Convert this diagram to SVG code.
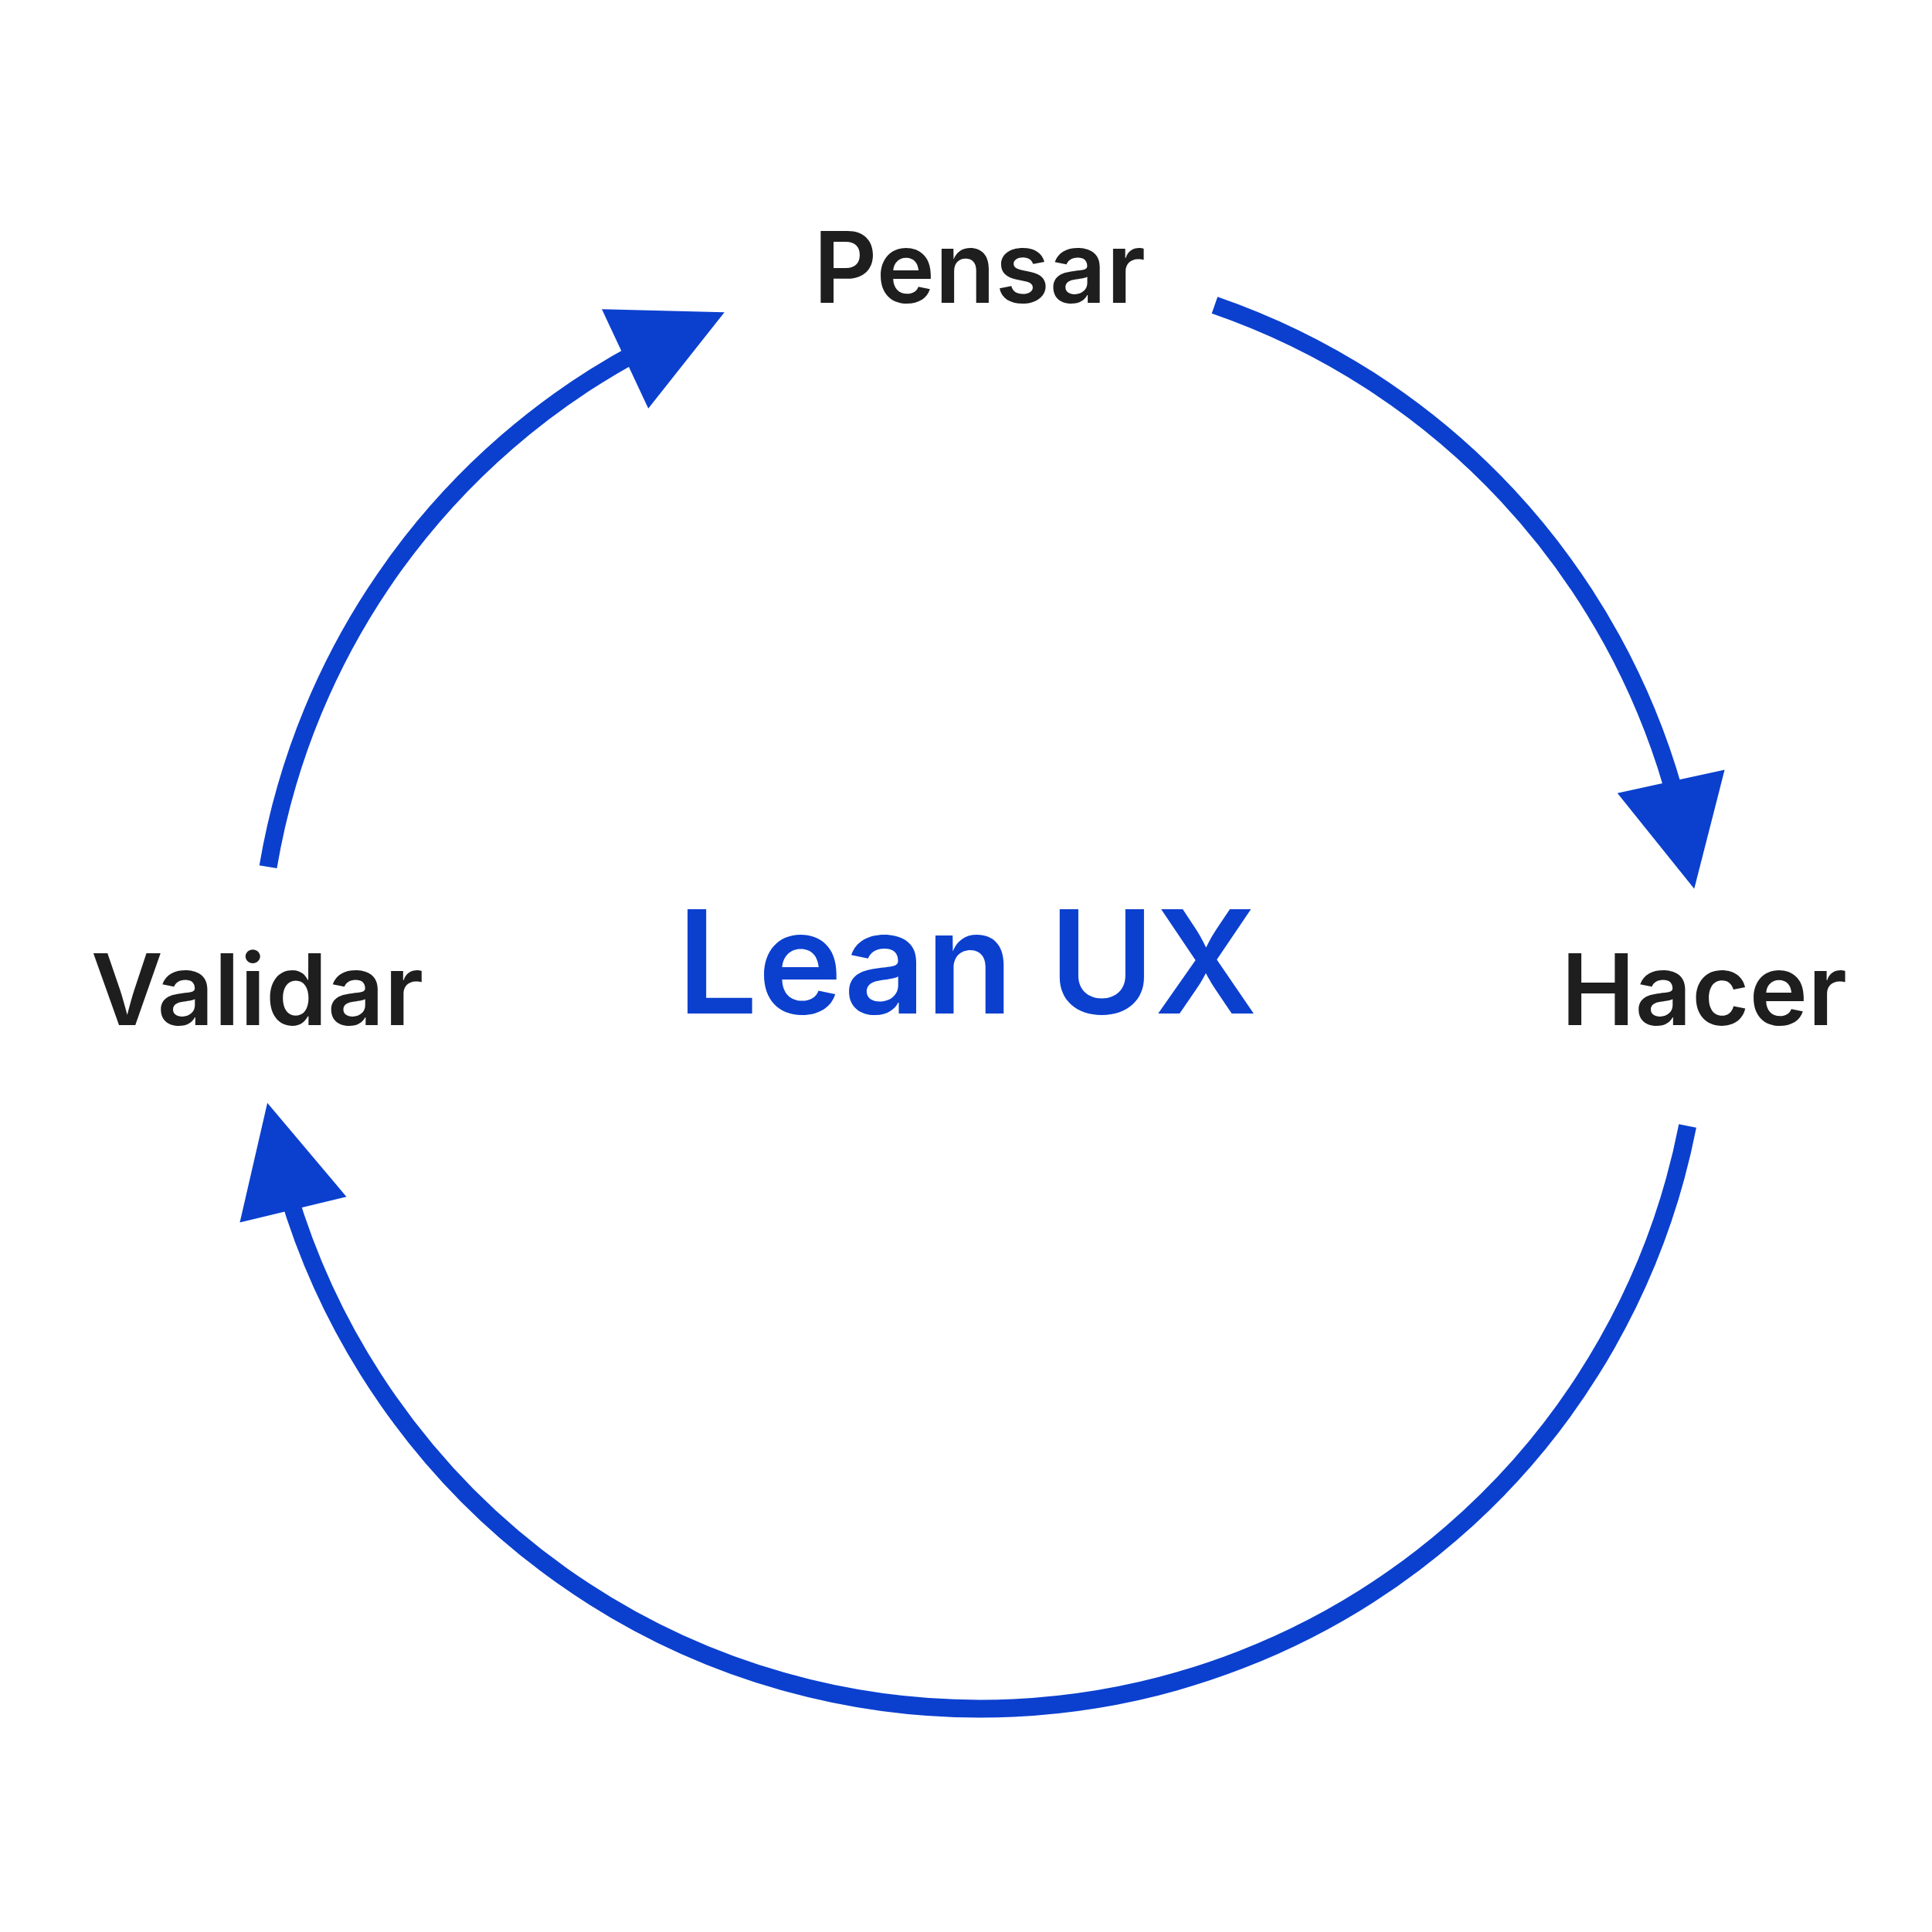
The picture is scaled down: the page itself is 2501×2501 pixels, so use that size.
<svg xmlns="http://www.w3.org/2000/svg" xmlns:xlink="http://www.w3.org/1999/xlink" width="2501" height="2501" viewBox="0 0 2501 2501">
<style>
.label{font-family:Inter,"Noto Sans","Liberation Sans",sans-serif;font-size:128px;font-weight:600;fill:#1e1e1e;text-anchor:middle}
.title{font-family:Inter,"Noto Sans","Liberation Sans",sans-serif;font-size:185px;font-weight:600;fill:#0b40cf;text-anchor:middle}
.arc{fill:none;stroke:#0b40cf;stroke-width:23;stroke-linecap:butt}
.head{fill:#0b40cf}
</style>
<defs>
<path id="arrowhead" d="M0,0 L-142,-71 L-142,71 Z"/>
</defs>
<rect width="2501" height="2501" fill="#ffffff"/>
<g id="connectors">
<path class="arc" d="M347.1,1122.2 A934,934 0 0 1 829.5,453.3"/>
<use href="#arrowhead" class="head" transform="translate(937.8,404.3) rotate(-25.06)"/>
<path class="arc" d="M1572.4,395 A934,934 0 0 1 2170.2,1036.3"/>
<use href="#arrowhead" class="head" transform="translate(2193.2,1150.4) rotate(77.79)"/>
<path class="arc" d="M2184.6,1457.5 A934,934 0 0 1 372.5,1543.3"/>
<use href="#arrowhead" class="head" transform="translate(346.1,1427.8) rotate(-103.59)"/>
</g>
<g id="node-pensar"><text class="label" x="1268" y="392">Pensar</text></g>
<g id="node-hacer"><text class="label" x="2206" y="1327">Hacer</text></g>
<g id="node-validar"><text class="label" x="333" y="1327">Validar</text></g>
<g id="node-leanux"><text class="title" x="1252" y="1312">Lean UX</text></g>
</svg>
